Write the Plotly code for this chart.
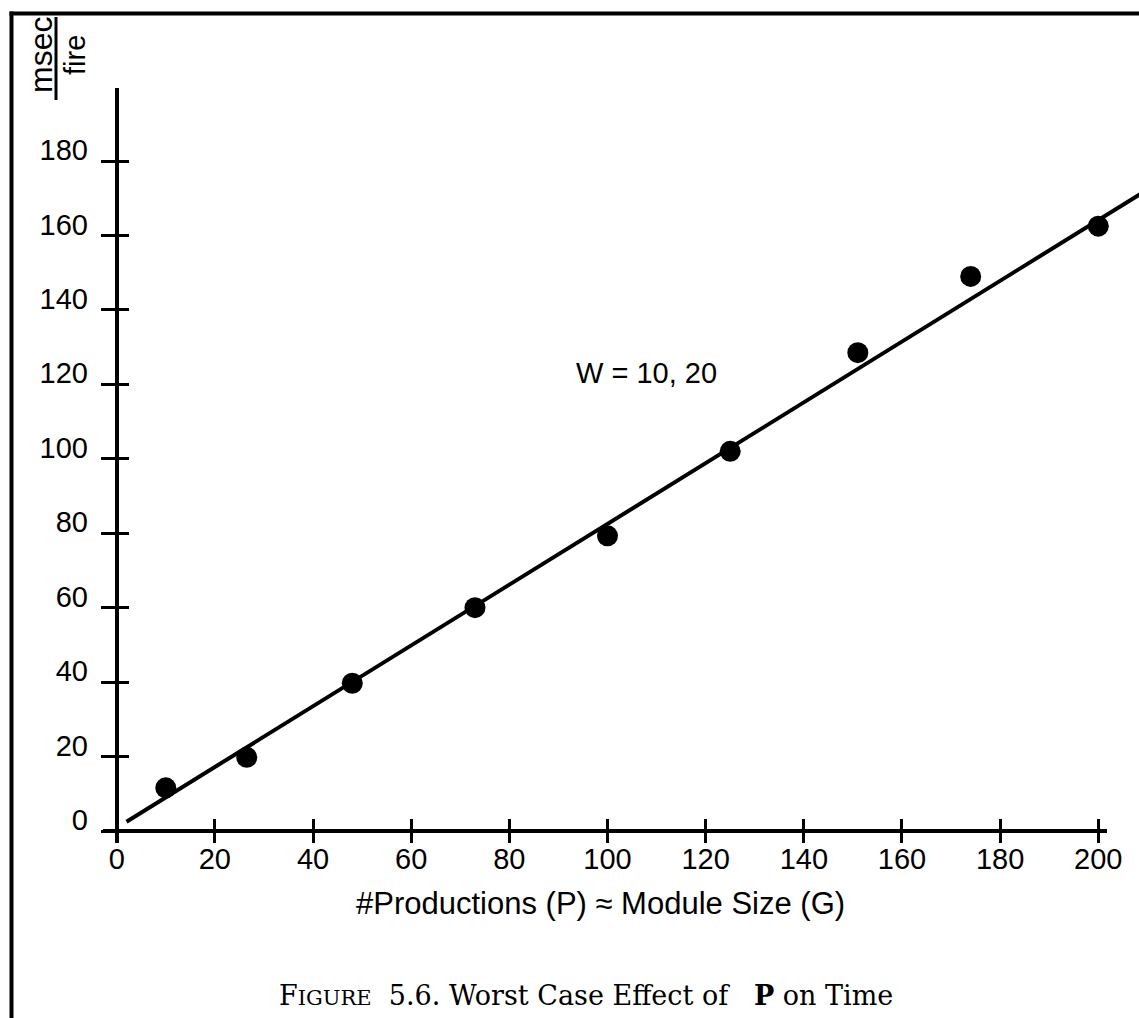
import plotly.graph_objects as go

# ---------------- data ----------------
prod_x = [10, 26.5, 48, 73, 100, 125, 151, 174, 200]
msec_y = [11.6, 19.8, 39.7, 60, 79.3, 102, 128.5, 149, 162.5]
fit_x = [2, 210]
fit_y = [2.5, 172.3]
x_ticks = [0, 20, 40, 60, 80, 100, 120, 140, 160, 180, 200]
y_ticks = [0, 20, 40, 60, 80, 100, 120, 140, 160, 180]
series_label = "W = 10, 20"
x_title = "#Productions (P) \u2248 Module Size (G)"
caption = ("F<span style='font-size:21px'>IGURE</span>&nbsp; 5.6. Worst Case Effect of &nbsp;&nbsp;"
           "<b>P</b> on Time")

# ---------------- geometry (pixels) ----------------
W, H = 1139, 1018
X0_PX, X200_PX = 116.7, 1098.3      # pixel of x=0 and x=200
Y0_PX, Y180_PX = 831.0, 161.0       # pixel (from top) of y=0 and y=180
SX = (X200_PX - X0_PX) / 200.0
SY = (Y0_PX - Y180_PX) / 180.0

def xval(px):
    return (px - X0_PX) / SX

def yval(py):
    return (Y0_PX - py) / SY

FONT = "Liberation Sans, Arial, Helvetica, sans-serif"
SERIF = "DejaVu Serif, Liberation Serif, serif"

# axis frame extents (pixels)
XAX_L, XAX_R = 103, 1107
YAX_T, YAX_B = 88, 843

fig = go.Figure()

# fitted line
fig.add_trace(go.Scatter(x=fit_x, y=fit_y, mode="lines",
                         line=dict(color="black", width=4),
                         xaxis="x", yaxis="y", showlegend=False, hoverinfo="skip"))
# measured points
fig.add_trace(go.Scatter(x=prod_x, y=msec_y, mode="markers",
                         marker=dict(color="black", size=21),
                         xaxis="x", yaxis="y", showlegend=False))
# empty traces to register the decorative axes
fig.add_trace(go.Scatter(x=[None], y=[None], xaxis="x2", yaxis="y2", showlegend=False))
fig.add_trace(go.Scatter(x=[None], y=[None], xaxis="x3", yaxis="y3", showlegend=False))

xdom = [XAX_L / W, XAX_R / W]
ydom = [1 - YAX_B / H, 1 - YAX_T / H]
xr2 = [xval(XAX_L), xval(XAX_R)]
yr2 = [yval(YAX_B), yval(YAX_T)]
xpos = 1 - Y0_PX / H
ypos = X0_PX / W

fig.update_layout(
    width=W, height=H,
    margin=dict(l=0, r=0, t=0, b=0),
    paper_bgcolor="white", plot_bgcolor="rgba(0,0,0,0)",
    showlegend=False,
    font=dict(family=FONT, color="black"),
    xaxis=dict(domain=[0, 1], range=[xval(0), xval(W)], visible=False, fixedrange=True),
    yaxis=dict(domain=[0, 1], range=[yval(H), yval(0)], visible=False, fixedrange=True),
    xaxis2=dict(domain=xdom, range=xr2, anchor="free", position=xpos,
                showline=True, linecolor="black", linewidth=4,
                ticks="outside", ticklen=10, tickwidth=3, tickcolor="black",
                tickmode="array", tickvals=x_ticks, ticktext=[str(v) for v in x_ticks],
                tickfont=dict(size=29, family=FONT, color="black"),
                ticklabelstandoff=-9,
                showgrid=False, zeroline=False, fixedrange=True, automargin=False),
    yaxis2=dict(domain=ydom, range=yr2, anchor="free", position=ypos,
                showline=True, linecolor="black", linewidth=4,
                ticks="outside", ticklen=14, tickwidth=3, tickcolor="black",
                tickmode="array", tickvals=y_ticks, ticktext=[str(v) for v in y_ticks],
                tickfont=dict(size=29, family=FONT, color="black"),
                ticklabelshift=-11, ticklabelstandoff=7,
                showgrid=False, zeroline=False, fixedrange=True, automargin=False),
    xaxis3=dict(domain=xdom, range=xr2, anchor="free", position=xpos,
                showline=False, ticks="inside", ticklen=12, tickwidth=3, tickcolor="black",
                tickmode="array", tickvals=x_ticks, showticklabels=False,
                showgrid=False, zeroline=False, fixedrange=True, automargin=False),
    yaxis3=dict(domain=ydom, range=yr2, anchor="free", position=ypos,
                showline=False, ticks="inside", ticklen=11, tickwidth=3, tickcolor="black",
                tickmode="array", tickvals=y_ticks, showticklabels=False,
                showgrid=False, zeroline=False, fixedrange=True, automargin=False),
)

# page border (left and top)
fig.add_shape(type="line", xref="paper", yref="paper",
              x0=11.5 / W, x1=11.5 / W, y0=0, y1=1 - 11.5 / H,
              line=dict(color="black", width=4))
fig.add_shape(type="line", xref="paper", yref="paper",
              x0=9.5 / W, x1=1, y0=1 - 13.5 / H, y1=1 - 13.5 / H,
              line=dict(color="black", width=4))
# fraction bar of the unit label
fig.add_shape(type="line", xref="paper", yref="paper",
              x0=56 / W, x1=56 / W, y0=1 - 100 / H, y1=1 - 17 / H,
              line=dict(color="black", width=3))

# unit label msec / fire
fig.add_annotation(text="msec", xref="paper", yref="paper",
                   x=41 / W, y=1 - 55 / H, xanchor="center", yanchor="middle",
                   textangle=-90, showarrow=False,
                   font=dict(size=32, family=FONT, color="black"))
fig.add_annotation(text="fire", xref="paper", yref="paper",
                   x=75 / W, y=1 - 55 / H, xanchor="center", yanchor="middle",
                   textangle=-90, showarrow=False,
                   font=dict(size=29, family=FONT, color="black"))

# series label
fig.add_annotation(text=series_label, xref="x", yref="y",
                   x=xval(646), y=yval(373), xanchor="center", yanchor="middle",
                   showarrow=False, font=dict(size=29, family=FONT, color="black"))

# x axis title
fig.add_annotation(text=x_title, xref="paper", yref="paper",
                   x=600 / W, y=1 - 903 / H, xanchor="center", yanchor="middle",
                   showarrow=False, font=dict(size=31, family=FONT, color="black"))

# caption
fig.add_annotation(text=caption, xref="paper", yref="paper",
                   x=586 / W, y=1 - 995 / H, xanchor="center", yanchor="middle",
                   showarrow=False, font=dict(size=27, family=SERIF, color="black"))

fig.write_html("out.html",
               config={"displayModeBar": False, "staticPlot": True},
               post_script="document.body.style.margin='0';"
                           "document.body.style.overflow='hidden';")
